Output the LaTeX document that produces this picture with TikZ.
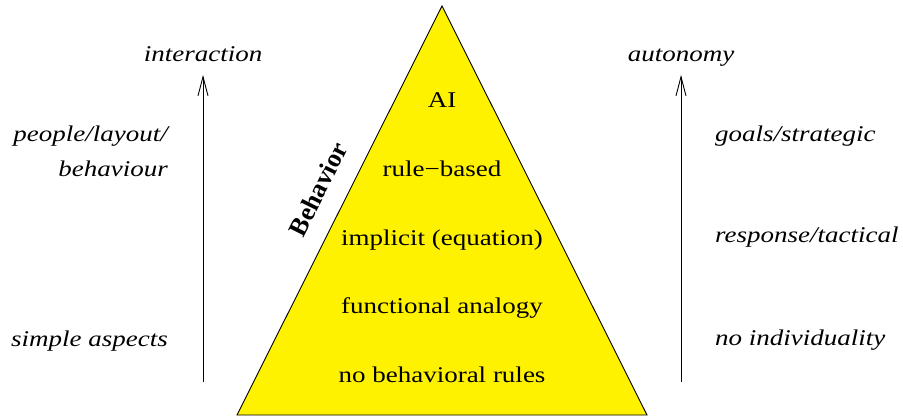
\documentclass[tikz,border=0pt]{standalone}
\usepackage{fontspec}
\usepackage{graphicx}
\setmainfont{Liberation Serif}
\usetikzlibrary{arrows.meta}
\newcommand\sxx[1]{\scalebox{1.2}[1]{#1}}
\begin{document}
\begin{tikzpicture}[x=1pt,y=-1pt,
  lbl/.style={inner sep=0pt,font=\fontsize{22.5}{27}\selectfont\itshape},
  tri/.style={inner sep=0pt,font=\fontsize{22.5}{27}\selectfont},
  axis/.style={line width=0.9pt,-{Straight Barb[length=19pt,width=10pt]}},
  pyr/.style={fill=yellow,draw=black,line width=0.9pt}]
\useasboundingbox (0,0) rectangle (903,417);
% pyramid
\draw[pyr] (237,415) -- (442,6) -- (647,415) -- cycle;
% triangle labels
\node[tri,anchor=base] (ai) at (442,108) {\sxx{AI}};
\node[tri,anchor=base] (rb) at (442,177) {\sxx{rule−based}};
\node[tri,anchor=base] (ie) at (442,245) {\sxx{implicit (equation)}};
\node[tri,anchor=base] (fa) at (442,313) {\sxx{functional analogy}};
\node[tri,anchor=base] (nb) at (442,382) {\sxx{no behavioral rules}};
\node[inner sep=0pt,anchor=base,rotate=63.4,font=\fontsize{26}{30}\selectfont\bfseries] (beh) at (326,193) {Behavior};
% left axis
\coordinate (l0) at (203,382);
\coordinate (l1) at (203,75);
\draw[axis] (l0) -- (l1);
\node[lbl,anchor=base] (inter) at (203,62) {\sxx{interaction}};
\node[lbl,anchor=base east] (plb1) at (168,142) {\sxx{people/layout/}};
\node[lbl,anchor=base east] (plb2) at (168,177) {\sxx{behaviour}};
\node[lbl,anchor=base east] (sa) at (168,346) {\sxx{simple aspects}};
% right axis
\coordinate (r0) at (681,382);
\coordinate (r1) at (681,75);
\draw[axis] (r0) -- (r1);
\node[lbl,anchor=base] (auto) at (681,62) {\sxx{autonomy}};
\node[lbl,anchor=base west] (gs) at (715,142) {\sxx{goals/strategic}};
\node[lbl,anchor=base west] (rt) at (715,243) {\sxx{response/tactical}};
\node[lbl,anchor=base west] (ni) at (715,345) {\sxx{no individuality}};
\end{tikzpicture}
\end{document}
